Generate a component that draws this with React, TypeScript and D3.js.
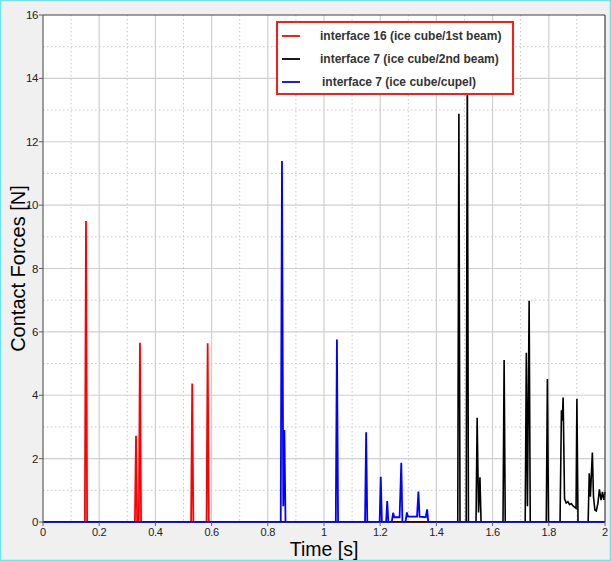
import React from "react";
import * as d3 from "d3";

const redTimes = [0, 0.149, 0.153, 0.157, 0.327, 0.331, 0.335, 0.341, 0.345, 0.349, 0.527, 0.531, 0.535, 0.582, 0.586, 0.590, 2.0];
const redValues = [0, 0, 9.5, 0, 0, 2.72, 0, 0, 5.66, 0, 0, 4.37, 0, 0, 5.64, 0, 0];

const blackTimes = [0, 1.476, 1.48, 1.484, 1.506, 1.51, 1.514, 1.541, 1.545, 1.55, 1.555, 1.559, 1.637, 1.641, 1.645, 1.716, 1.72, 1.724, 1.73, 1.734, 1.791, 1.795, 1.799, 1.84, 1.845, 1.848, 1.851, 1.856, 1.862, 1.868, 1.874, 1.88, 1.887, 1.893, 1.897, 1.9, 1.904, 1.94, 1.944, 1.948, 1.955, 1.959, 1.964, 1.969, 1.975, 1.98, 1.986, 1.991, 1.996, 2.0];
const blackValues = [0, 0, 12.88, 0, 0, 14.6, 0, 0, 3.29, 0.3, 1.41, 0, 0, 5.11, 0, 0, 5.34, 0.5, 6.98, 0, 0, 4.51, 0, 0, 3.53, 3.2, 3.93, 0.73, 0.6, 0.64, 0.55, 0.58, 0.5, 0.46, 0.43, 3.89, 0, 0, 1.54, 0.8, 2.19, 0.8, 0.38, 0.35, 0.6, 1.03, 0.69, 0.95, 0.7, 0.95];

const blueTimes = [0, 0.846, 0.8505, 0.855, 0.859, 0.863, 1.042, 1.046, 1.05, 1.146, 1.15, 1.154, 1.198, 1.202, 1.206, 1.221, 1.225, 1.229, 1.241, 1.246, 1.25, 1.269, 1.275, 1.279, 1.29, 1.295, 1.299, 1.331, 1.336, 1.34, 1.362, 1.367, 1.371, 2.0];
const blueValues = [0, 0, 11.39, 0.5, 2.9, 0, 0, 5.76, 0, 0, 2.83, 0, 0, 1.43, 0, 0, 0.66, 0, 0, 0.29, 0.15, 0.15, 1.87, 0, 0, 0.3, 0.17, 0.17, 0.96, 0.17, 0.15, 0.4, 0, 0];

const seriesNames = ["interface 16 (ice cube/1st beam)", "interface 7 (ice cube/2nd beam)", "interface 7 (ice cube/cupel)"];
const seriesColors = ["#ff0000", "#000000", "#0000ff"];

const xTicks = [0, 0.2, 0.4, 0.6, 0.8, 1, 1.2, 1.4, 1.6, 1.8, 2];
const xMinor = [0.1, 0.3, 0.5, 0.7, 0.9, 1.1, 1.3, 1.5, 1.7, 1.9];
const yTicks = [0, 2, 4, 6, 8, 10, 12, 14, 16];
const yMinor = [1, 3, 5, 7, 9, 11, 13, 15];

const W = 611, H = 561;
const L = 43, R = 605, T = 15, B = 522;

export default function App() {
  const x = d3.scaleLinear().domain([0, 2]).range([L, R]);
  const y = d3.scaleLinear().domain([0, 16]).range([B, T]);
  const line = d3.line<[number, number]>().x(d => x(d[0])).y(d => y(d[1]));
  const series = [
    redTimes.map((t, i) => [t, redValues[i]] as [number, number]),
    blackTimes.map((t, i) => [t, blackValues[i]] as [number, number]),
    blueTimes.map((t, i) => [t, blueValues[i]] as [number, number]),
  ];
  const font = "'Liberation Sans', Arial, sans-serif";
  return (
    <div style={{ position: "fixed", left: 0, top: 0 }}>
      <svg width={W} height={H} style={{ display: "block" }}>
        <rect x={0.5} y={0.5} width={W - 1} height={H - 1} fill="#f0f0f0" stroke="#6fe3e8" strokeWidth={1.5} />
        <rect x={L} y={T} width={R - L} height={B - T} fill="#ffffff" />
        {xMinor.map(v => (
          <line key={"xm" + v} x1={x(v)} x2={x(v)} y1={T} y2={B} stroke="#c8c8c8" strokeDasharray="1.5,2.5" />
        ))}
        {yMinor.map(v => (
          <line key={"ym" + v} x1={L} x2={R} y1={y(v)} y2={y(v)} stroke="#c8c8c8" strokeDasharray="1.5,2.5" />
        ))}
        {xTicks.slice(1, -1).map(v => (
          <line key={"xg" + v} x1={x(v)} x2={x(v)} y1={T} y2={B} stroke="#cfcfcf" strokeWidth={1.2} />
        ))}
        {yTicks.slice(1, -1).map(v => (
          <line key={"yg" + v} x1={L} x2={R} y1={y(v)} y2={y(v)} stroke="#cfcfcf" strokeWidth={1.2} />
        ))}
        {series.map((s, i) => (
          <path key={"s" + i} d={line(s) || ""} fill="none" stroke={seriesColors[i]} strokeWidth={i === 1 ? 1.6 : 1.8} strokeLinejoin="miter" />
        ))}
        <line x1={L} x2={R} y1={T} y2={T} stroke="#404040" strokeWidth={1.2} />
        <line x1={R} x2={R} y1={T} y2={B} stroke="#404040" strokeWidth={1.2} />
        <line x1={L} x2={L} y1={T} y2={B + 1} stroke="#606060" strokeWidth={1.2} />
        <line x1={L} x2={R} y1={B + 0.5} y2={B + 0.5} stroke="#606060" strokeWidth={0.8} opacity={0.3} />
        {yTicks.map(v => (
          <g key={"yt" + v}>
            <line x1={L - 4} x2={L} y1={y(v)} y2={y(v)} stroke="#606060" />
            <text x={L - 5} y={y(v) + 4} textAnchor="end" fontSize={11.5} fontFamily={font} fill="#222" letterSpacing={-0.4}>{v}</text>
          </g>
        ))}
        {xTicks.map(v => (
          <g key={"xt" + v}>
            <line x1={x(v)} x2={x(v)} y1={B} y2={B + 4} stroke="#606060" />
            <text x={x(v)} y={B + 14} textAnchor="middle" fontSize={11} fontFamily={font} fill="#222" letterSpacing={-0.3}>{v}</text>
          </g>
        ))}
        <text x={x(1)} y={556} textAnchor="middle" fontSize={19.5} fontFamily={font} fill="#000">Time [s]</text>
        <text transform={`translate(25, ${(T + B) / 2}) rotate(-90)`} textAnchor="middle" fontSize={20} fontFamily={font} fill="#000">Contact Forces [N]</text>
        <g>
          <rect x={277} y={22} width={236} height={72} fill="#ffffff" stroke="#ff1a1a" strokeWidth={2} />
          {seriesNames.map((n, i) => (
            <g key={"lg" + i}>
              <line x1={282} x2={300} y1={36 + i * 23} y2={36 + i * 23} stroke={seriesColors[i]} strokeWidth={1.8} />
              <text x={i === 2 ? 322 : 320} y={40 + i * 23} fontSize={12} fontWeight="bold" fontFamily={font} fill="#333">{n}</text>
            </g>
          ))}
        </g>
      </svg>
    </div>
  );
}
